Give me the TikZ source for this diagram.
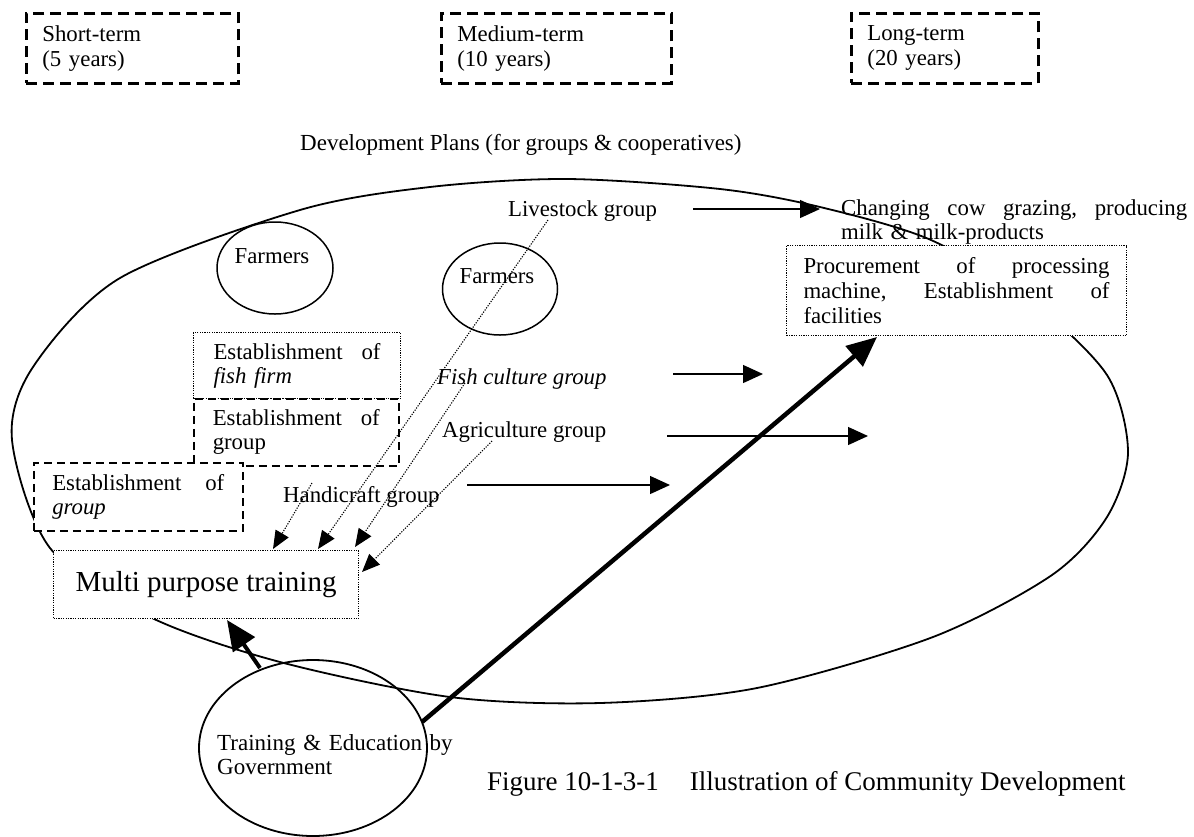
\documentclass[tikz,border=0pt]{standalone}
\usepackage{fontspec}
\setmainfont{Liberation Serif}
\usetikzlibrary{arrows.meta,shapes.geometric}
% a line spread to a fixed width
\newcommand{\spreadline}[2]{\leavevmode\hbox to #1{#2}}
\begin{document}
\begin{tikzpicture}[x=1pt,y=-1pt,
  every node/.style={inner sep=0pt, font=\fontsize{22.8}{24}\selectfont},
  termbox/.style={draw, line width=2.8pt, dash pattern=on 11pt off 6pt,
    anchor=north west, inner xsep=16pt, minimum height=70pt, align=left,
    font=\fontsize{22.8}{25}\selectfont},
  dotbox/.style={draw, line width=1pt, dash pattern=on 1.2pt off 1.2pt,
    fill=white, anchor=north west, align=left},
  dashbox/.style={draw, line width=1.5pt, dash pattern=on 8pt off 5pt,
    fill=white, anchor=north west, align=left},
  ring/.style={draw, ellipse, line width=1.5pt},
  flow/.style={line width=1.3pt, -{Triangle[length=20pt,width=18pt]}},
  feed/.style={line width=1.1pt, dash pattern=on 1.2pt off 1.4pt,
    -{Triangle[length=18pt,width=15pt]}},
  support/.style={line width=4.5pt, -{Triangle[length=30pt,width=26pt]}},
]
\useasboundingbox (0,0) rectangle (1194,836);

% planning horizons
\node[termbox, text width=180pt] (short) at (25,12) {Short-term\\(5 years)};
\node[termbox, text width=198pt] (medium) at (440,12) {Medium-term\\(10 years)};
\node[termbox, text width=155pt] (long) at (850,12) {Long-term\\(20 years)};

\node[anchor=base west, font=\fontsize{23}{25}\selectfont] (plans) at (300,150)
  {Development Plans (for groups \& cooperatives)};

% community boundary
\draw[line width=1.8pt] plot[smooth cycle] coordinates {
  (567,179) (720,189) (820,207) (931,240) (1030,300) (1107,375)
  (1128,452) (1107,517) (1052,575) (933,637) (757,688) (600,703)
  (450,697) (280,662) (150,617) (50,548) (12,440) (33,367)
  (120,278) (300,210) (430,187)};

% farmer groups
\node[ring, minimum width=116pt, minimum height=92pt] (farm1) at (275,268) {};
\node (farm1txt) at (272,256) {Farmers};
\node[ring, minimum width=115pt, minimum height=92pt] (farm2) at (500,289) {};
\node (farm2txt) at (497,276) {Farmers};

% group labels
\node[anchor=base west] (live) at (508,216) {Livestock group};
\node[anchor=base west] (fish) at (437,384) {\itshape Fish culture group};
\node[anchor=base west] (agri) at (442,437) {Agriculture group};
\node[anchor=base west] (hand) at (283,502) {Handicraft group};

% long-term outcomes
\node[anchor=base west, text width=346pt, align=left] (cow) at (841,215)
  {\spreadline{346pt}{Changing\hfill cow\hfill grazing,\hfill producing}\\
   milk \& milk-products};
\node[dotbox, text width=306pt, inner xsep=17pt, minimum height=90pt]
  (proc) at (786,245)
  {\spreadline{306pt}{Procurement\hfill of\hfill processing}\\[1pt]
   \spreadline{306pt}{machine,\hfill Establishment\hfill of}\\[1pt]facilities};

% short-term establishment steps
\node[dotbox, text width=167pt, inner xsep=20pt, minimum height=66pt]
  (firm) at (193,332)
  {\spreadline{167pt}{Establishment\hfill of}\\\textit{fish firm}};
\node[dashbox, text width=167pt, inner xsep=19pt, minimum height=67pt]
  (grpb) at (193,398)
  {\spreadline{167pt}{Establishment\hfill of}\\group};
\node[dashbox, text width=172pt, inner xsep=18.5pt, minimum height=68pt]
  (grpc) at (33,462)
  {\spreadline{172pt}{Establishment\hfill of}\\\textit{group}};

\node[dotbox, minimum width=305pt, minimum height=68pt,
  font=\fontsize{29}{32}\selectfont] (multi) at (53,550) {Multi purpose training};

% government support
\node[ring, line width=1.8pt, minimum width=228pt, minimum height=176pt]
  (gov) at (313,748) {};
\node[anchor=base west, text width=240pt, align=left,
  font=\fontsize{23}{24}\selectfont] (govtxt) at (217,750)
  {Training \& Education by\\Government};

\node[anchor=base west, font=\fontsize{27}{30}\selectfont] (caption) at (487,790)
  {Figure 10-1-3-1\hspace*{31pt}Illustration of Community Development};

% end points of the flows
\coordinate (liveA) at (693,209);  \coordinate (liveB) at (820,209);
\coordinate (fishA) at (673,374);  \coordinate (fishB) at (763,374);
\coordinate (agriA) at (667,436);  \coordinate (agriB) at (868,436);
\coordinate (handA) at (467,485);  \coordinate (handB) at (670,485);

\draw[flow] (liveA) -- (liveB);
\draw[flow] (fishA) -- (fishB);
\draw[flow] (agriA) -- (agriB);
\draw[flow] (handA) -- (handB);

% groups feeding the training
\coordinate (liveS) at (548,220);  \coordinate (liveT) at (318,549);
\coordinate (fishS) at (465,383);  \coordinate (fishT) at (355,547);
\coordinate (agriS) at (492,441);  \coordinate (agriT) at (362,572);
\coordinate (handS) at (312,483);  \coordinate (handT) at (273,549);

\draw[feed] (liveS) -- (liveT);
\draw[feed] (fishS) -- (fishT);
\draw[feed] (agriS) -- (agriT);
\draw[feed] (handS) -- (handT);

% government support arrows
\coordinate (govA) at (260,668);   \coordinate (multiB) at (227,620);
\coordinate (govB) at (422,722);   \coordinate (procB) at (877,337);
\draw[support, line width=4pt] (govA) -- (multiB);
\draw[support] (govB) -- (procB);
\end{tikzpicture}
\end{document}
